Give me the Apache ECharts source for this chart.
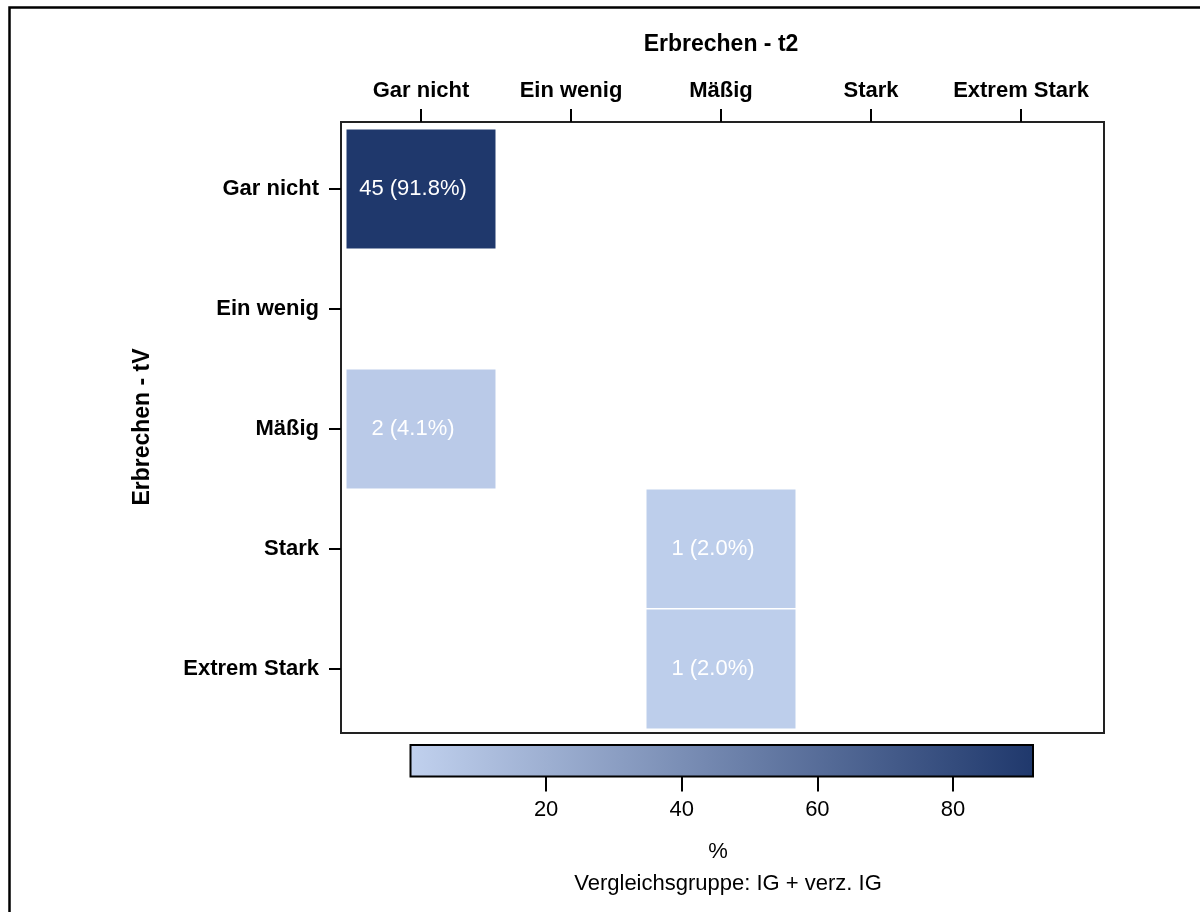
<!DOCTYPE html>
<html>
<head>
<meta charset="utf-8">
<script src="https://cdn.jsdelivr.net/npm/echarts@6/dist/echarts.min.js"></script>
<style>
  html, body { margin: 0; padding: 0; background: #fff; }
  #chart { width: 1200px; height: 912px; }
</style>
</head>
<body>
<div id="chart"></div>
<script>
// Categories for both axes (columns: t2, rows: tV)
const colCategories = ['Gar nicht', 'Ein wenig', 'Mäßig', 'Stark', 'Extrem Stark'];
const rowCategories = ['Gar nicht', 'Ein wenig', 'Mäßig', 'Stark', 'Extrem Stark'];

// Non-empty cells: column index, row index, count, percent
const cellCol = [0, 0, 2, 2];
const cellRow = [0, 2, 3, 4];
const cellCount = [45, 2, 1, 1];
const cellPercent = [91.8, 4.1, 2.0, 2.0];

// Colour bar range and tick values
const scaleMin = 0;
const scaleMax = 91.8;
const scaleTicks = [20, 40, 60, 80];

const lightColor = '#c1d1ee';
const darkColor = '#1f386c';
const FONT = '"Liberation Sans", Arial, sans-serif';

const heatData = cellCol.map((c, i) => [c, cellRow[i], cellPercent[i], cellCount[i]]);

const chart = echarts.init(document.getElementById('chart'));

chart.setOption({
  backgroundColor: '#fff',
  animation: false,
  grid: [
    { left: 346, right: 104, top: 129, bottom: 183, containLabel: false },
    {
      left: 410.5, width: 622.5, top: 745, height: 31.5,
      show: true, borderColor: '#000', borderWidth: 2,
      backgroundColor: {
        type: 'linear', x: 0, y: 0, x2: 1, y2: 0,
        colorStops: [{ offset: 0, color: lightColor }, { offset: 1, color: darkColor }]
      }
    }
  ],
  xAxis: [
    {
      gridIndex: 0, type: 'category', data: colCategories, position: 'top', offset: 7,
      axisLine: { show: false },
      axisTick: { show: true, alignWithLabel: true, length: 13, lineStyle: { color: '#000', width: 2 } },
      axisLabel: { color: '#000', fontFamily: FONT, fontWeight: 'bold', fontSize: 22, margin: 20, interval: 0 },
      splitLine: { show: false }
    },
    {
      gridIndex: 1, type: 'value', min: scaleMin, max: scaleMax,
      axisLine: { show: false },
      axisTick: { show: true, length: 15, customValues: scaleTicks, lineStyle: { color: '#000', width: 2 } },
      axisLabel: { color: '#000', fontFamily: FONT, fontSize: 22, margin: 22, customValues: scaleTicks },
      splitLine: { show: false }
    }
  ],
  yAxis: [
    {
      gridIndex: 0, type: 'category', data: rowCategories, inverse: true, offset: 5,
      axisLine: { show: false },
      axisTick: { show: true, alignWithLabel: true, length: 12, lineStyle: { color: '#000', width: 2 } },
      axisLabel: { color: '#000', fontFamily: FONT, fontWeight: 'bold', fontSize: 22, margin: 22, interval: 0 },
      splitLine: { show: false }
    },
    { gridIndex: 1, type: 'value', show: false, min: 0, max: 1 }
  ],
  visualMap: {
    show: false, type: 'continuous', seriesIndex: 0, dimension: 2,
    min: scaleMin, max: scaleMax,
    inRange: { color: [lightColor, darkColor] }
  },
  series: [
    {
      type: 'heatmap', xAxisIndex: 0, yAxisIndex: 0,
      data: heatData,
      itemStyle: { borderColor: '#ffffff', borderWidth: 1.5 },
      label: {
        show: true, color: '#ffffff', fontFamily: FONT, fontSize: 22, offset: [-8, 0],
        formatter: p => p.data[3] + ' (' + p.data[2].toFixed(1) + '%)'
      },
      emphasis: { disabled: true }
    }
  ],
  graphic: [
    // outer frame (left and top edges)
    { type: 'polyline', silent: true, shape: { points: [[9.5, 912], [9.5, 7.5], [1200, 7.5]] },
      style: { stroke: '#000', lineWidth: 2.5, fill: null } },
    // plot area border
    { type: 'rect', silent: true, shape: { x: 341, y: 122, width: 763, height: 611 },
      style: { stroke: '#222', lineWidth: 2, fill: null } },
    // axis titles
    { type: 'text', silent: true, x: 721, y: 45,
      style: { text: 'Erbrechen - t2', fill: '#000', font: 'bold 23px ' + FONT, textAlign: 'center', textVerticalAlign: 'middle' } },
    { type: 'text', silent: true, x: 143, y: 427, rotation: Math.PI / 2,
      style: { text: 'Erbrechen - tV', fill: '#000', font: 'bold 23px ' + FONT, textAlign: 'center', textVerticalAlign: 'middle' } },
    { type: 'text', silent: true, x: 718, y: 852,
      style: { text: '%', fill: '#000', font: '22px ' + FONT, textAlign: 'center', textVerticalAlign: 'middle' } },
    { type: 'text', silent: true, x: 728, y: 884,
      style: { text: 'Vergleichsgruppe: IG + verz. IG', fill: '#000', font: '22px ' + FONT, textAlign: 'center', textVerticalAlign: 'middle' } }
  ]
});
</script>
</body>
</html>
